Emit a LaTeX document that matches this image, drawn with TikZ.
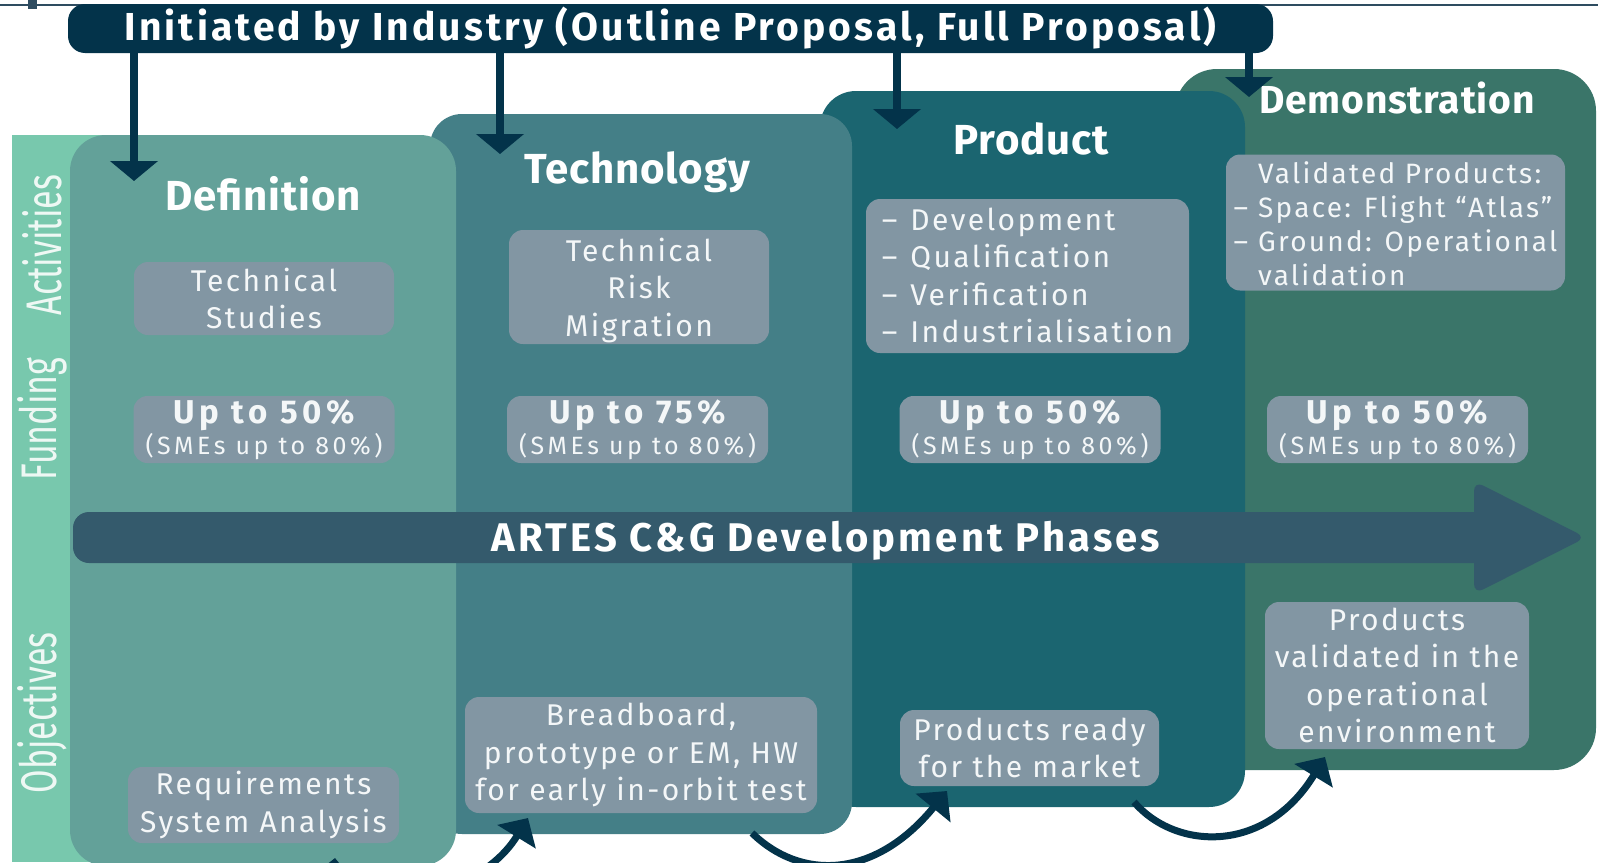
\documentclass[tikz,border=0pt]{standalone}
\usepackage{fontspec}
\setmainfont{Fira Sans}[LetterSpace=8]
\newfontfamily\tightf{Fira Sans}[LetterSpace=2]
\newfontfamily\widef{Fira Sans}[LetterSpace=14]
\newfontfamily\plainf{Fira Sans}
\usetikzlibrary{arrows.meta}
\definecolor{navy}{HTML}{03334A}
\definecolor{topline}{HTML}{2E4C60}
\definecolor{stripc}{HTML}{78C8AD}
\definecolor{defc}{HTML}{63A199}
\definecolor{techc}{HTML}{447F87}
\definecolor{prodc}{HTML}{1B6570}
\definecolor{democ}{HTML}{3A7569}
\definecolor{boxc}{HTML}{8296A3}
\definecolor{artesc}{HTML}{345A6C}
\definecolor{txt}{HTML}{F4F7F8}
\definecolor{sidetxt}{HTML}{EEF8F4}
\begin{document}
\begin{tikzpicture}[x=1pt,y=-1pt,
  box/.style={fill=boxc, rounded corners=14pt, text=txt, inner sep=0pt},
  body/.style={font=\fontsize{30}{37.5}\selectfont},
  ptitle/.style={text=white, anchor=base, font=\tightf\bfseries\fontsize{42}{50}\selectfont},
  side/.style={rotate=90, text=sidetxt, font=\plainf\fontsize{50}{60}\selectfont},
  fund/.style={box, align=center, minimum width=261pt, minimum height=67pt, font=\widef\fontsize{33}{31}\selectfont},
  drop/.style={draw=navy, line width=8pt, -{Triangle[width=47pt,length=20pt]}},
  hop/.style={draw=navy, line width=7pt, -{Triangle[width=44pt,length=22pt]}},
]
\clip (0,0) rectangle (1598,862);
\fill[white] (0,0) rectangle (1598,862);
% top rule
\draw[topline, line width=2pt] (0,5) -- (1598,5);
\fill[topline] (28,0) rectangle (37,9);
% phase panels
\fill[stripc] (12,135) rectangle (110,862);
\fill[democ, rounded corners=42pt] (1175,69) rectangle (1596,770);
\fill[prodc, rounded corners=36pt] (820,91) rectangle (1245,807);
\fill[techc, rounded corners=32pt] (430,114) rectangle (852,834);
\fill[defc, rounded corners=36pt] (70,135) rectangle (456,866);
% banner
\node[fill=navy, rounded corners=17pt, minimum width=1205pt, minimum height=49pt, inner sep=0pt,
      text=white, font=\bfseries\fontsize{39}{46}\selectfont] (top) at (670.5,28.5)
      {Initiated by Industry (Outline Proposal, Full Proposal)};
% side labels
\node[side] (lact) at (42,245) {\scalebox{0.68}[1]{Activities}};
\node[side] (lfund) at (42,419) {\scalebox{0.68}[1]{Funding}};
\node[side] (lobj) at (42,713) {\scalebox{0.68}[1]{Objectives}};
% phase titles
\node[ptitle] (deft) at (263,210) {Definition};
\node[ptitle] (techt) at (637,183) {Technology};
\node[ptitle] (prodt) at (1031,154) {Product};
\node[ptitle, font=\tightf\bfseries\fontsize{39}{47}\selectfont] (demot) at (1397,113) {Demonstration};
% drop arrows
\coordinate (d1) at (134,181);
\coordinate (d2) at (500,154);
\coordinate (d3) at (897,129);
\coordinate (d4) at (1249,97);
\foreach \d in {d1,d2,d3,d4} \draw[drop] (top.south -| \d) -- (\d);
% activities
\node[box, body, align=center, minimum width=260pt, minimum height=73pt] (dact) at (264,298.5) {Technical\\Studies};
\node[box, body, align=center, minimum width=260pt, minimum height=114pt] (tact) at (639,287) {\rule{0pt}{30pt}Technical\\Risk\\Migration};
\node[box, body, minimum width=323pt, minimum height=154pt] (pact) at (1027.5,276)
  {\raisebox{-3pt}[\height][\depth]{\begin{tabular}{@{}l@{\hspace{13pt}}l@{}}–&Development\\–&Qualification\\–&Verification\\–&Industrialisation\end{tabular}}};
\node[box, minimum width=339pt, minimum height=135pt, font=\fontsize{28}{34}\selectfont] (mact) at (1395.5,222.5)
  {\raisebox{-5pt}[\height][\depth]{\begin{tabular}{@{}l@{\hspace{10pt}}l@{}}&Validated Products:\\–&Space: Flight “Atlas”\\–&Ground: Operational\\&validation\end{tabular}}};
% funding
\node[fund] (dfund) at (264,429.5) {{\bfseries Up to 50\%}\\{\fontsize{25}{31}\selectfont (SMEs up to 80\%)}};
\node[fund] (tfund) at (637.5,429.5) {{\bfseries Up to 75\%}\\{\fontsize{25}{31}\selectfont (SMEs up to 80\%)}};
\node[fund] (pfund) at (1030,429.5) {{\bfseries Up to 50\%}\\{\fontsize{25}{31}\selectfont (SMEs up to 80\%)}};
\node[fund] (mfund) at (1397.5,429.5) {{\bfseries Up to 50\%}\\{\fontsize{25}{31}\selectfont (SMEs up to 80\%)}};
% ARTES arrow
\fill[artesc, rounded corners=16pt] (73,512) rectangle (1495,563);
\fill[artesc, rounded corners=10pt] (1474,481) -- (1586,537.5) -- (1474,594) -- cycle;
\node[text=white, anchor=base, font=\bfseries\fontsize{40}{48}\selectfont] (artes) at (826,551) {ARTES C\&G Development Phases};
% objectives
\node[box, body, align=center, minimum width=271pt, minimum height=76pt] (dobj) at (263.5,805) {Requirements\\System Analysis};
\node[box, body, align=center, minimum width=352pt, minimum height=116pt] (tobj) at (641,755) {Breadboard,\\prototype or EM, HW\\for early in-orbit test};
\node[box, body, align=center, minimum width=259pt, minimum height=76pt] (pobj) at (1029.5,748) {Products ready\\for the market};
\node[box, body, align=center, minimum width=264pt, minimum height=147pt] (mobj) at (1397,675.5) {Products\\validated in the\\operational\\environment};
% hop arrows
\coordinate (h0s) at (330,905);
\coordinate (h0e) at (335,858);
\coordinate (h1s) at (380,870);
\coordinate (h1e) at (528,818);
\coordinate (h2s) at (752,833);
\coordinate (h2e) at (947,791);
\coordinate (h3s) at (1134,802);
\coordinate (h3e) at (1325,757);
\draw[hop] (h0s) -- (h0e);
\draw[hop] (h1s) .. controls (420,910) and (490,880) .. (h1e);
\draw[hop] (h2s) .. controls (800,880) and (874,880) .. (h2e);
\draw[hop] (h3s) .. controls (1175,850) and (1265,855) .. (h3e);
\end{tikzpicture}
\end{document}
